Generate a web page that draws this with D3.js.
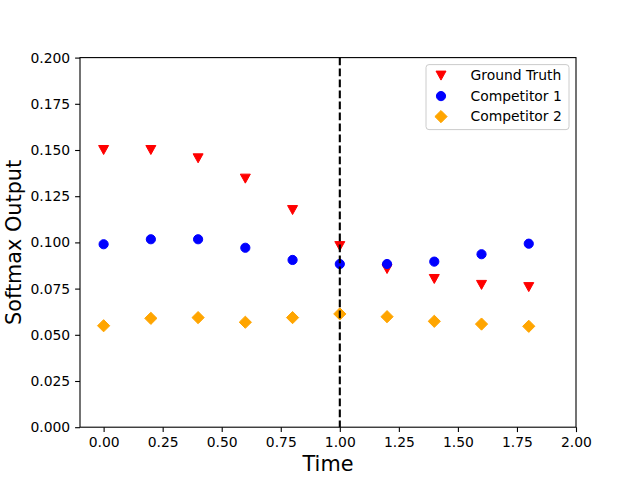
<!DOCTYPE html>
<html>
<head>
<meta charset="utf-8">
<script src="https://cdn.jsdelivr.net/npm/d3@7"></script>
<style>
  body { margin: 0; background: #fff; }
  text { font-family: "DejaVu Sans", sans-serif; fill: #000; }
</style>
</head>
<body>
<div id="chart"></div>
<script>
'use strict'

// data
const times = [0.0, 0.2, 0.4, 0.6, 0.8, 1.0, 1.2, 1.4, 1.6, 1.8]
const groundTruth = [0.150, 0.150, 0.1455, 0.1345, 0.1175, 0.098, 0.0856, 0.0802, 0.077, 0.0758]
const competitor1 = [0.099, 0.1017, 0.1017, 0.0971, 0.0905, 0.0883, 0.0883, 0.0896, 0.0936, 0.0993]
const competitor2 = [0.0549, 0.0589, 0.0593, 0.0568, 0.0593, 0.0613, 0.0598, 0.0573, 0.0558, 0.0546]
const seriesNames = ['Ground Truth', 'Competitor 1', 'Competitor 2']
const xTicks = [0, 0.25, 0.5, 0.75, 1.0, 1.25, 1.5, 1.75, 2.0]
const yTicks = [0, 0.025, 0.05, 0.075, 0.1, 0.125, 0.15, 0.175, 0.2]
const splitTime = 1.0

////////////////////////////////////
//////////// svg setup /////////////
////////////////////////////////////

const svgWidth = 640
const svgHeight = 480
const margin = { left: 80, right: 64, top: 57.6, bottom: 52.8 }
const width = svgWidth - margin.left - margin.right
const height = svgHeight - margin.top - margin.bottom

const root = d3.select('#chart').append('svg')
    .attr('width', svgWidth)
    .attr('height', svgHeight)

const svg = root.append('g')
    .attr('transform', `translate(${margin.left},${margin.top})`)

////////////////////////////////////
//////////////scales////////////////
////////////////////////////////////

const xScale = d3.scaleLinear().domain([-0.1, 2.0]).range([0, width])
const yScale = d3.scaleLinear().domain([0, 0.2]).range([height, 0])

const series = [
    { name: seriesNames[0], values: groundTruth, color: '#ff0000', shape: 'tri' },
    { name: seriesNames[1], values: competitor1, color: '#0000ff', shape: 'circle' },
    { name: seriesNames[2], values: competitor2, color: '#ffa500', shape: 'diamond' }
]

// marker paths centred on 0,0
function shapeD(shape) {
    if (shape === 'tri') return 'M0,4.5L-5,-4.5L5,-4.5Z'   // pointing down
    if (shape === 'diamond') return 'M0,-6.1L6.1,0L0,6.1L-6.1,0Z'
    return d3.symbol(d3.symbolCircle, Math.PI * 4.6 * 4.6)()
}

////////////////////////////////////
///////////////axis/////////////////
////////////////////////////////////

svg.append('g')
    .attr('transform', `translate(0,${height})`)
    .call(d3.axisBottom(xScale).tickValues(xTicks).tickFormat(d3.format('.2f')).tickSize(4.9).tickPadding(4.9))

svg.append('g')
    .call(d3.axisLeft(yScale).tickValues(yTicks).tickFormat(d3.format('.3f')).tickSize(4.9).tickPadding(4.9))

root.selectAll('.domain').remove()
root.selectAll('.tick line').attr('stroke', '#000').attr('stroke-width', 1.1)
root.selectAll('.tick text').attr('font-size', '13.9px').attr('font-family', '"DejaVu Sans", sans-serif').attr('fill', '#000')

////////////////////////////////////
/////////////// DOM ////////////////
////////////////////////////////////

series.forEach(s => {
    svg.append('g')
        .selectAll('path')
        .data(times.map((t, i) => ({ t: t, v: s.values[i] })))
        .join('path')
        .attr('d', shapeD(s.shape))
        .attr('transform', d => `translate(${xScale(d.t)},${yScale(d.v)})`)
        .attr('fill', s.color)
        .attr('stroke', s.color)
        .attr('stroke-width', 1)
})

// dashed split line
svg.append('line')
    .attr('x1', xScale(splitTime)).attr('x2', xScale(splitTime))
    .attr('y1', 0).attr('y2', height)
    .attr('stroke', '#000')
    .attr('stroke-width', 2.1)
    .attr('stroke-dasharray', '7.7,3.3')

// frame
svg.append('rect')
    .attr('width', width).attr('height', height)
    .attr('fill', 'none').attr('stroke', '#000').attr('stroke-width', 1.1)

// legend
const legend = svg.append('g').attr('transform', `translate(${width - 150},${7})`)
legend.append('rect')
    .attr('width', 143).attr('height', 65)
    .attr('rx', 3)
    .attr('fill', '#fff').attr('fill-opacity', 0.8)
    .attr('stroke', '#ccc')

series.forEach((s, i) => {
    const row = legend.append('g').attr('transform', `translate(0,${11 + i * 20.5})`)
    row.append('path')
        .attr('d', shapeD(s.shape))
        .attr('transform', 'translate(15,0)')
        .attr('fill', s.color).attr('stroke', s.color)
    row.append('text')
        .attr('x', 44.5).attr('y', 0)
        .attr('dy', '0.35em')
        .attr('font-size', '13.9px')
        .text(s.name)
})

// axis labels
root.append('text')
    .attr('x', margin.left + width / 2)
    .attr('y', 471)
    .attr('text-anchor', 'middle')
    .attr('font-size', '20.8px')
    .text('Time')

root.append('text')
    .attr('transform', `translate(21,${margin.top + height / 2}) rotate(-90)`)
    .attr('text-anchor', 'middle')
    .attr('font-size', '20.8px')
    .text('Softmax Output')
</script>
</body>
</html>
